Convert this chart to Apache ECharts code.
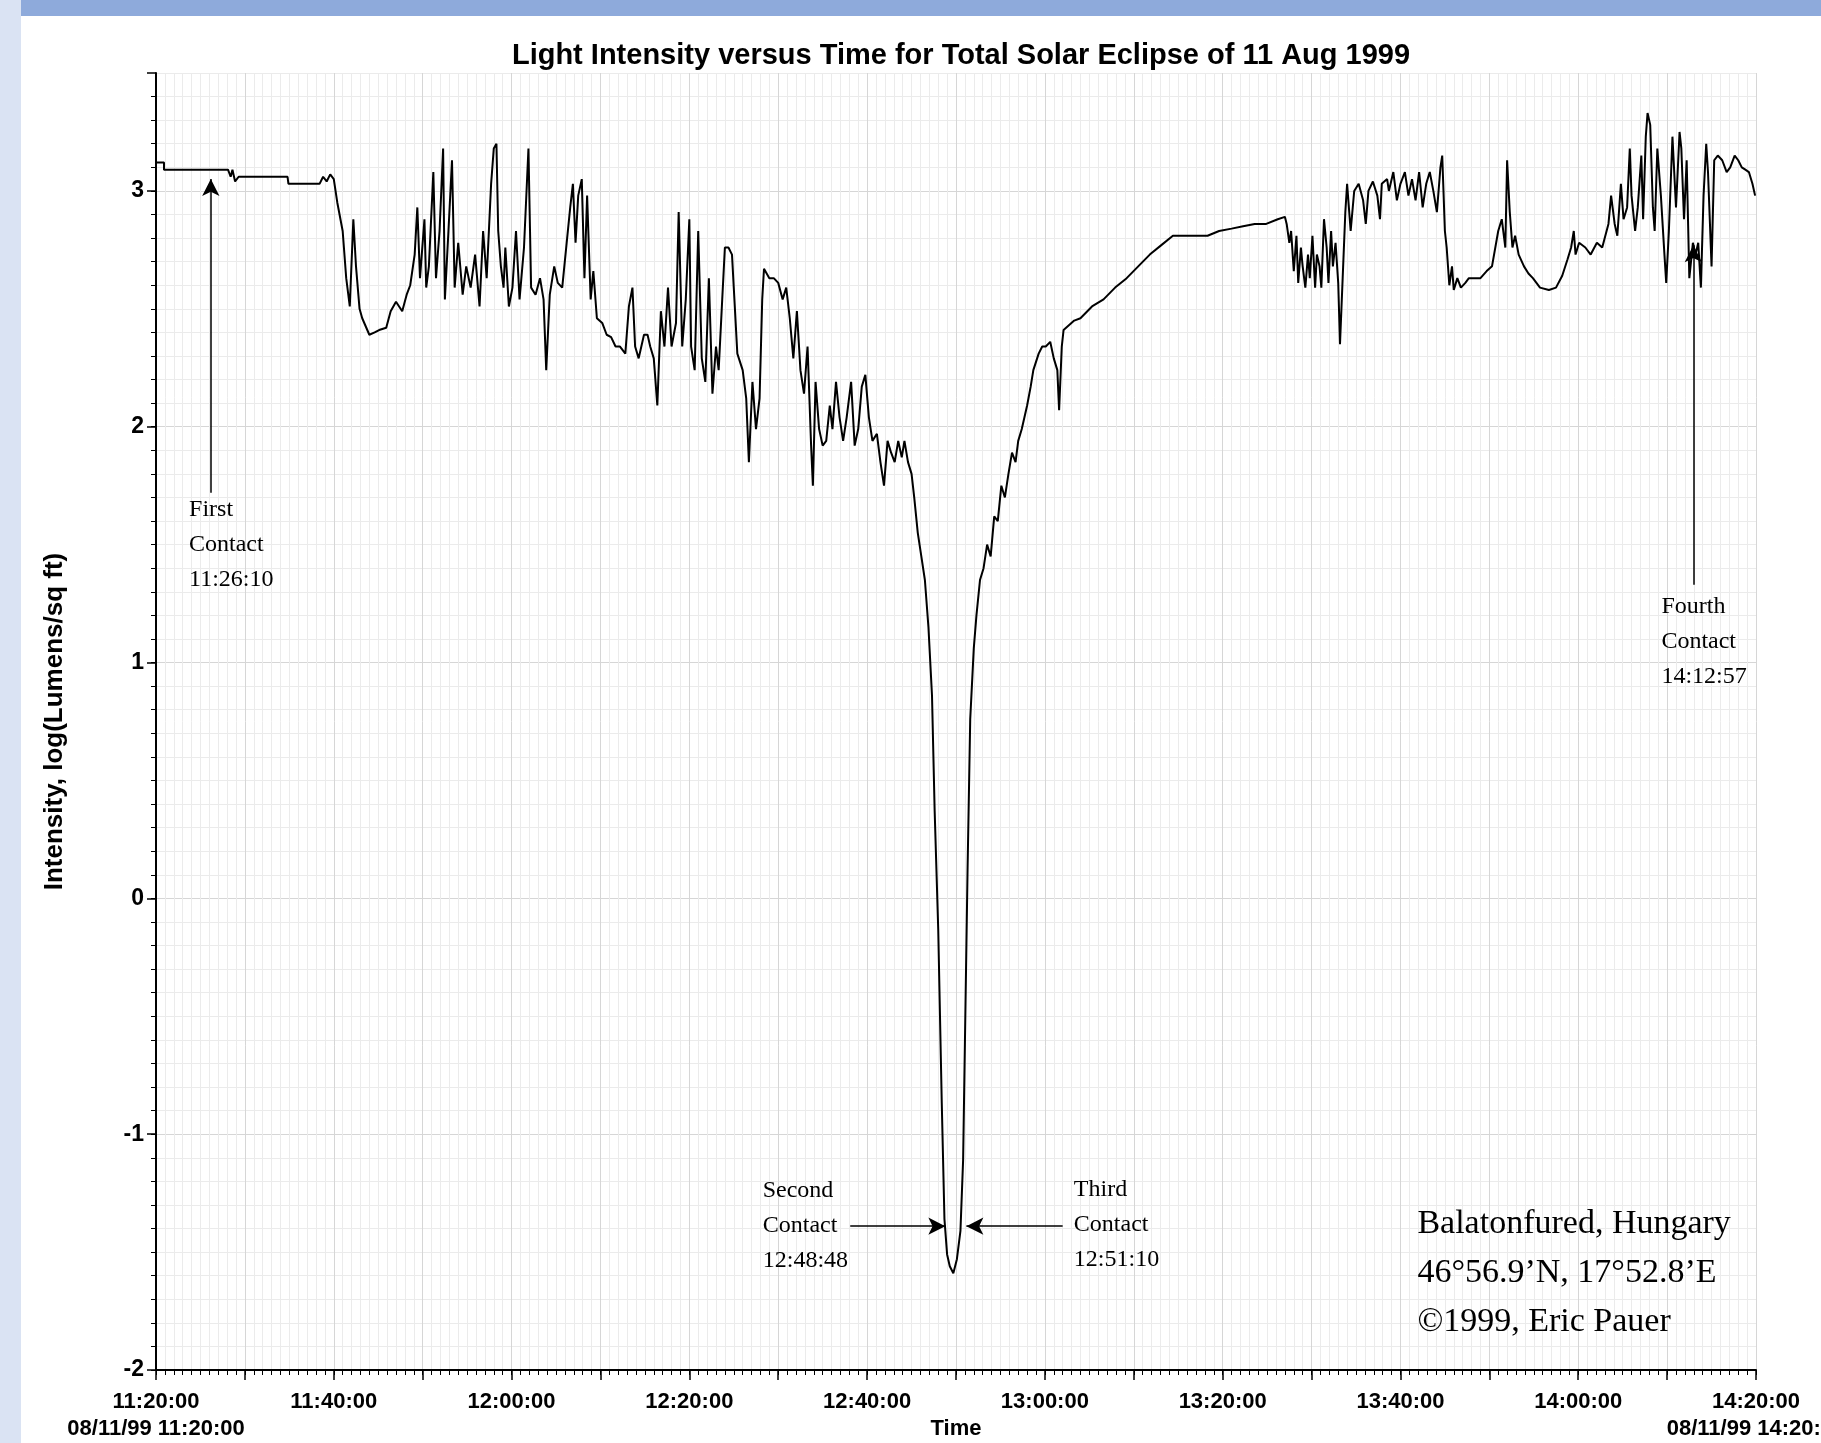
<!DOCTYPE html>
<html>
<head>
<meta charset="utf-8">
<script src="https://cdn.jsdelivr.net/npm/echarts@6/dist/echarts.min.js"></script>
<style>
  html, body { margin: 0; padding: 0; background: #fff; }
  #chart { width: 1821px; height: 1443px; }
</style>
</head>
<body>
<div id="chart"></div>
<script>
// x axis tick labels (every 20 min from 11:20:00)
const timeLabels = ['11:20:00', '11:40:00', '12:00:00', '12:20:00', '12:40:00', '13:00:00', '13:20:00', '13:40:00', '14:00:00', '14:20:00']
const dateStart = '08/11/99 11:20:00'
const dateEnd = '08/11/99 14:20:00'

// minutes after 11:20:00
const minutes = [
  0, 0.9, 0.9, 8.1, 8.4, 8.6, 8.9, 9.3, 14.8, 14.9, 18.4, 18.8, 19.2, 19.6, 20.0, 20.4, 21.0, 21.4, 21.8, 22.2,
  22.5, 22.9, 23.2, 24.0, 24.6, 25.1, 25.9, 26.4, 27.0, 27.7, 28.2, 28.6, 29.1, 29.4, 29.7, 30.2, 30.4, 30.7, 31.2, 31.5,
  31.9, 32.3, 32.5, 32.9, 33.3, 33.6, 34.0, 34.5, 34.9, 35.4, 35.9, 36.4, 36.8, 37.2, 37.7, 38.0, 38.3, 38.5, 38.8, 39.1,
  39.3, 39.7, 40.1, 40.5, 40.9, 41.4, 41.9, 42.2, 42.7, 43.2, 43.6, 43.9, 44.3, 44.8, 45.2, 45.7, 46.2, 46.6, 46.9, 47.2,
  47.5, 47.9, 48.2, 48.5, 48.9, 49.2, 49.6, 50.2, 50.7, 51.2, 51.7, 52.2, 52.8, 53.2, 53.6, 53.9, 54.3, 54.9, 55.3, 55.6,
  56.0, 56.4, 56.8, 57.2, 57.6, 58.0, 58.5, 58.8, 59.2, 59.6, 60.0, 60.2, 60.6, 61.0, 61.4, 61.8, 62.2, 62.6, 63.0, 63.3,
  63.7, 64.0, 64.4, 64.8, 65.0, 65.4, 66.0, 66.4, 66.7, 67.1, 67.5, 67.9, 68.2, 68.4, 69.0, 69.5, 70.0, 70.5, 70.9, 71.3,
  71.7, 72.1, 72.5, 72.9, 73.3, 73.7, 73.9, 74.2, 74.6, 75.0, 75.4, 75.8, 76.1, 76.5, 76.9, 77.3, 77.7, 78.2, 78.6, 79.0,
  79.4, 79.8, 80.2, 80.6, 81.1, 81.5, 81.9, 82.3, 82.7, 83.1, 83.5, 83.9, 84.2, 84.6, 85.0, 85.3, 85.7, 86.1, 86.5, 86.9,
  87.3, 87.6, 88.0, 88.4, 88.7, 89.0, 89.3, 89.7, 90.1, 90.5, 90.8, 91.0, 91.3, 91.6, 92.0, 92.3, 92.7, 93.1, 93.5, 93.9,
  94.3, 94.7, 95.1, 95.5, 95.9, 96.3, 96.7, 97.0, 97.4, 98.0, 98.4, 98.7, 99.3, 99.7, 100.1, 100.6, 101.0, 101.4, 101.6, 101.9,
  102.1, 102.7, 103.3, 104.0, 105.3, 106.6, 107.9, 109.2, 110.5, 111.8, 113.1, 114.4, 115.7, 118.3, 119.6, 121.0, 122.3, 123.6, 124.9, 126.2,
  127.0, 127.2, 127.5, 127.7, 128.0, 128.3, 128.5, 128.8, 129.0, 129.3, 129.6, 129.8, 130.1, 130.4, 130.6, 130.9, 131.1, 131.4, 131.7, 131.9,
  132.2, 132.4, 132.7, 133.0, 133.2, 133.5, 133.8, 134.0, 134.4, 134.8, 135.3, 135.8, 136.1, 136.4, 136.9, 137.4, 137.7, 137.9, 138.5, 138.7,
  139.2, 139.6, 140.0, 140.5, 140.9, 141.3, 141.7, 142.1, 142.5, 142.9, 143.3, 143.7, 144.1, 144.5, 144.7, 145.0, 145.2, 145.5, 145.8, 146.0,
  146.4, 146.8, 147.3, 147.7, 148.4, 149.0, 149.7, 150.3, 151.0, 151.4, 151.8, 152.0, 152.3, 152.6, 152.9, 153.3, 153.9, 154.4, 154.9, 155.7,
  156.7, 157.5, 158.2, 158.8, 159.2, 159.5, 159.7, 160.1, 160.8, 161.4, 162.1, 162.7, 163.4, 163.7, 164.1, 164.4, 164.8, 165.1, 165.5, 165.8,
  166.0, 166.4, 166.7, 167.1, 167.3, 167.6, 167.8, 168.1, 168.4, 168.6, 168.9, 169.3, 169.7, 169.9, 170.2, 170.6, 171.0, 171.4, 171.6, 171.9,
  172.2, 172.5, 172.9, 173.2, 173.5, 173.8, 174.1, 174.4, 174.6, 175.0, 175.3, 175.7, 176.2, 176.7, 177.1, 177.6, 178.0, 178.4, 178.8, 179.2,
  179.6, 179.9
]

// log(Lumens/sq ft)
const intensity = [
  3.12, 3.12, 3.09, 3.09, 3.06, 3.09, 3.04, 3.06, 3.06, 3.03, 3.03, 3.06, 3.04, 3.07, 3.05, 2.95, 2.83, 2.63, 2.51, 2.88,
  2.68, 2.50, 2.46, 2.39, 2.40, 2.41, 2.42, 2.49, 2.53, 2.49, 2.56, 2.60, 2.73, 2.93, 2.63, 2.88, 2.59, 2.68, 3.08, 2.63,
  2.83, 3.18, 2.54, 2.83, 3.13, 2.59, 2.78, 2.56, 2.68, 2.59, 2.73, 2.51, 2.83, 2.63, 3.03, 3.18, 3.20, 2.83, 2.68, 2.59,
  2.76, 2.51, 2.59, 2.83, 2.54, 2.76, 3.18, 2.59, 2.56, 2.63, 2.54, 2.24, 2.56, 2.68, 2.61, 2.59, 2.78, 2.93, 3.03, 2.78,
  2.98, 3.05, 2.63, 2.98, 2.54, 2.66, 2.46, 2.44, 2.39, 2.38, 2.34, 2.34, 2.31, 2.51, 2.59, 2.34, 2.29, 2.39, 2.39, 2.34,
  2.29, 2.09, 2.49, 2.34, 2.59, 2.34, 2.44, 2.91, 2.34, 2.54, 2.88, 2.34, 2.24, 2.83, 2.29, 2.19, 2.63, 2.14, 2.34, 2.24,
  2.54, 2.76, 2.76, 2.73, 2.59, 2.31, 2.24, 2.12, 1.85, 2.19, 1.99, 2.12, 2.54, 2.67, 2.63, 2.63, 2.61, 2.54, 2.59, 2.46,
  2.29, 2.49, 2.24, 2.14, 2.34, 1.92, 1.75, 2.19, 1.99, 1.92, 1.94, 2.09, 1.99, 2.19, 2.04, 1.94, 2.04, 2.19, 1.92, 1.99,
  2.17, 2.22, 2.04, 1.94, 1.97, 1.85, 1.75, 1.94, 1.89, 1.85, 1.94, 1.87, 1.94, 1.85, 1.80, 1.70, 1.55, 1.45, 1.35, 1.15,
  0.86, 0.37, -0.13, -0.87, -1.36, -1.51, -1.56, -1.59, -1.53, -1.41, -1.11, -0.62, 0.12, 0.76, 1.06, 1.20, 1.35, 1.40, 1.50, 1.45,
  1.62, 1.60, 1.75, 1.70, 1.80, 1.89, 1.85, 1.94, 1.99, 2.09, 2.17, 2.24, 2.31, 2.34, 2.34, 2.36, 2.29, 2.24, 2.07, 2.34,
  2.41, 2.43, 2.45, 2.46, 2.51, 2.54, 2.59, 2.63, 2.68, 2.73, 2.77, 2.81, 2.81, 2.81, 2.83, 2.84, 2.85, 2.86, 2.86, 2.88,
  2.89, 2.86, 2.78, 2.83, 2.66, 2.81, 2.61, 2.76, 2.68, 2.59, 2.73, 2.63, 2.81, 2.59, 2.73, 2.68, 2.59, 2.88, 2.76, 2.61,
  2.83, 2.68, 2.78, 2.61, 2.35, 2.63, 2.91, 3.03, 2.83, 3.00, 3.03, 2.96, 2.86, 3.00, 3.04, 2.98, 2.88, 3.03, 3.05, 3.00,
  3.08, 2.96, 3.03, 3.08, 2.98, 3.05, 2.96, 3.08, 2.93, 3.03, 3.08, 3.00, 2.91, 3.10, 3.15, 2.83, 2.76, 2.60, 2.68, 2.58,
  2.63, 2.59, 2.61, 2.63, 2.63, 2.63, 2.66, 2.68, 2.83, 2.88, 2.76, 3.13, 2.91, 2.76, 2.81, 2.73, 2.68, 2.65, 2.63, 2.59,
  2.58, 2.59, 2.64, 2.71, 2.76, 2.83, 2.73, 2.78, 2.76, 2.73, 2.78, 2.76, 2.86, 2.98, 2.86, 2.81, 3.03, 2.88, 2.93, 3.18,
  2.98, 2.83, 2.93, 3.15, 2.88, 3.23, 3.33, 3.28, 2.93, 2.83, 3.18, 2.98, 2.73, 2.61, 2.83, 3.23, 2.93, 3.25, 3.18, 2.88,
  3.13, 2.63, 2.78, 2.73, 2.78, 2.59, 2.98, 3.20, 3.08, 2.68, 3.13, 3.15, 3.13, 3.08, 3.10, 3.15, 3.13, 3.10, 3.09, 3.08,
  3.03, 2.98
]

const contactNames = ['First', 'Second', 'Third', 'Fourth']
const contactTimes = ['11:26:10', '12:48:48', '12:51:10', '14:12:57']
const siteLines = ['Balatonfured, Hungary', '46°56.9’N, 17°52.8’E', '©1999, Eric Pauer']

// 时间字符串 -> 11:20:00 以后的分钟数
function toMinutes(t) {
  let [h, m, s] = t.split(':').map(Number)
  return h * 60 + m + s / 60 - (11 * 60 + 20)
}

const SANS = "'Liberation Sans', Arial, sans-serif"
const SERIF = "'Liberation Serif', 'Times New Roman', serif"

let lineData = minutes.map((m, i) => [m, intensity[i]])
let ct = contactTimes.map(toMinutes)

function contactText(i) {
  return contactNames[i] + '\nContact\n' + contactTimes[i]
}

// every 10th split line a bit darker
let gridColors = ['#d6d6d6'].concat(new Array(9).fill('#ebebeb'))

let option = {
  animation: false,
  backgroundColor: '#fff',
  title: {
    text: 'Light Intensity versus Time for Total Solar Eclipse of 11 Aug 1999',
    left: 956,
    top: 36,
    textAlign: 'center',
    textStyle: {fontFamily: SANS, fontWeight: 'bold', fontSize: 29, color: '#000'}
  },
  grid: {left: 156, right: 65, top: 73, bottom: 73, containLabel: false, outerBoundsMode: 'none'},
  graphic: [
    {type: 'rect', left: 0, top: 0, shape: {width: 1821, height: 16}, style: {fill: '#8eaadb'}, z: 100},
    {type: 'rect', left: 0, top: 0, shape: {width: 21, height: 1443}, style: {fill: '#dae3f3'}, z: 101}
  ],
  xAxis: [
    {
      type: 'value',
      min: 0,
      max: 180,
      interval: 1,
      name: 'Time',
      nameLocation: 'middle',
      nameGap: 48,
      nameMoveOverlap: false,
      nameTextStyle: {fontFamily: SANS, fontWeight: 'bold', fontSize: 22, color: '#000'},
      axisLine: {show: true, onZero: false, lineStyle: {color: '#000', width: 2}},
      axisTick: {show: true, length: 5, lineStyle: {color: '#000', width: 1}},
      axisLabel: {
        margin: 18,
        color: '#000',
        fontFamily: SANS,
        fontWeight: 'bold',
        fontSize: 22,
        lineHeight: 27,
        showMinLabel: true,
        showMaxLabel: true,
        formatter(v) {
          if (v % 20 !== 0) return ''
          let s = timeLabels[v / 20]
          if (v === 0) return s + '\n' + dateStart
          if (v === 180) return s + '\n' + dateEnd
          return s
        }
      },
      splitLine: {show: true, lineStyle: {color: gridColors, width: 1}}
    },
    {
      type: 'value',
      position: 'bottom',
      min: 0,
      max: 180,
      interval: 10,
      axisLine: {show: false, onZero: false},
      axisTick: {show: true, length: 10, lineStyle: {color: '#000', width: 1.5}},
      axisLabel: {show: false},
      splitLine: {show: false}
    }
  ],
  yAxis: [
    {
      type: 'value',
      min: -2,
      max: 3.5,
      interval: 0.1,
      name: 'Intensity, log(Lumens/sq ft)',
      nameLocation: 'middle',
      nameGap: 88,
      nameMoveOverlap: false,
      nameTextStyle: {fontFamily: SANS, fontWeight: 'bold', fontSize: 26, color: '#000'},
      axisLine: {show: true, onZero: false, lineStyle: {color: '#000', width: 2}},
      axisTick: {show: true, length: 5, lineStyle: {color: '#000', width: 1}},
      axisLabel: {
        margin: 12,
        color: '#000',
        fontFamily: SANS,
        fontWeight: 'bold',
        fontSize: 23,
        showMaxLabel: false,
        formatter(v) {
          return Math.abs(v - Math.round(v)) < 1e-6 ? String(Math.round(v)) : ''
        }
      },
      splitLine: {show: true, lineStyle: {color: gridColors, width: 1}}
    },
    {
      type: 'value',
      position: 'left',
      min: -2,
      max: 3.5,
      interval: 1,
      axisLine: {show: false, onZero: false},
      axisTick: {show: true, length: 9, lineStyle: {color: '#000', width: 1.5}},
      axisLabel: {show: false},
      splitLine: {show: false}
    }
  ],
  series: [
    {
      type: 'line',
      data: lineData,
      showSymbol: false,
      symbol: 'none',
      silent: true,
      lineStyle: {color: '#000', width: 2},
      markLine: {
        silent: true,
        symbol: ['none', 'arrow'],
        symbolSize: [13, 17],
        label: {show: false},
        lineStyle: {color: '#000', width: 1.5, type: 'solid'},
        data: [
          [{coord: [ct[0], 1.72]}, {coord: [ct[0], 3.05]}],
          [{coord: [78.1, -1.39]}, {coord: [ct[1], -1.39]}],
          [{coord: [102.0, -1.39]}, {coord: [ct[2], -1.39]}],
          [{coord: [ct[3], 1.33]}, {coord: [ct[3], 2.77]}]
        ]
      },
      markPoint: {
        silent: true,
        symbol: 'rect',
        symbolSize: 1,
        itemStyle: {color: 'rgba(0,0,0,0)'},
        label: {
          show: true,
          position: 'right',
          distance: 0,
          align: 'left',
          verticalAlign: 'middle',
          color: '#000',
          fontFamily: SERIF,
          fontSize: 24,
          lineHeight: 35
        },
        data: [
          {coord: [3.66, 1.50], label: {formatter: contactText(0)}},
          {coord: [68.2, -1.39], label: {formatter: contactText(1)}},
          {coord: [103.2, -1.385], label: {formatter: contactText(2)}},
          {coord: [169.3, 1.09], label: {formatter: contactText(3)}},
          {coord: [141.85, -1.59], label: {formatter: siteLines.join('\n'), fontSize: 34, lineHeight: 49}}
        ]
      }
    }
  ]
}

let chart = echarts.init(document.getElementById('chart'))
chart.setOption(option)
</script>
</body>
</html>
